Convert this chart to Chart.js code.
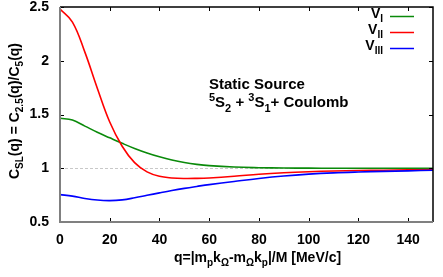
<!DOCTYPE html>
<html><head><meta charset="utf-8">
<script src="https://cdn.jsdelivr.net/npm/chart.js@4/dist/chart.umd.min.js"></script>
<style>html,body{margin:0;padding:0;background:#fff}canvas{display:block}</style>
</head><body>
<canvas id="c" width="443" height="277"></canvas>
<script>
const q     = [0, 5, 10, 15, 20, 25, 30, 35, 40, 45, 50, 55, 60, 70, 80, 90, 100, 110, 120, 130, 140, 150];
const vI    = [1.465, 1.448, 1.392, 1.335, 1.283, 1.232, 1.184, 1.142, 1.106, 1.076, 1.053, 1.036, 1.024, 1.011, 1.005, 1.002, 1.001, 1.0, 1.0, 1.0, 1.0, 1.0];
const vII   = [2.48, 2.36, 2.08, 1.745, 1.43, 1.205, 1.052, 0.966, 0.925, 0.91, 0.905, 0.906, 0.91, 0.925, 0.944, 0.958, 0.968, 0.975, 0.979, 0.982, 0.985, 0.987];
const vIII  = [0.755, 0.741, 0.719, 0.704, 0.699, 0.706, 0.725, 0.748, 0.771, 0.793, 0.813, 0.831, 0.848, 0.877, 0.905, 0.928, 0.945, 0.957, 0.965, 0.971, 0.976, 0.981];
const xTicks = [0, 20, 40, 60, 80, 100, 120, 140];
const yTicks = [0.5, 1, 1.5, 2, 2.5];
const seriesNames = [["V","I"], ["V","II"], ["V","III"]];
const seriesColors = ["#0a8a0a", "#ff0000", "#0000ff"];

const FAM = '"Liberation Sans", Arial, sans-serif';
function fnt(sz){ return 'bold ' + sz + 'px ' + FAM; }

function richWidth(ctx, parts, base, small){
  let w = 0;
  for (const [t, m] of parts){ ctx.font = fnt(m ? small : base); w += ctx.measureText(t).width; }
  return w;
}
function drawRich(ctx, parts, x, y, align, base, small, color){
  const w = richWidth(ctx, parts, base, small);
  let cx = align === 'center' ? x - w/2 : (align === 'right' ? x - w : x);
  ctx.fillStyle = color || '#000';
  ctx.textBaseline = 'alphabetic';
  ctx.textAlign = 'left';
  for (const [t, m] of parts){
    ctx.font = fnt(m ? small : base);
    let dy = 0;
    if (m === 'b') dy = base*0.3;
    if (m === 'p') dy = -base*0.42;
    ctx.fillText(t, cx, y + dy);
    cx += ctx.measureText(t).width;
  }
}

const decor = {
  id: 'decor',
  beforeDatasetsDraw(chart){
    const ctx = chart.ctx, a = chart.chartArea, ys = chart.scales.y;
    ctx.save();
    ctx.strokeStyle = '#c8c8c8'; ctx.lineWidth = 1; ctx.setLineDash([3,2]);
    const y1 = Math.round(ys.getPixelForValue(1)) + 0.5;
    ctx.beginPath(); ctx.moveTo(a.left, y1); ctx.lineTo(a.right, y1); ctx.stroke();
    ctx.restore();
  },
  afterDraw(chart){
    const ctx = chart.ctx, a = chart.chartArea, xs = chart.scales.x, ys = chart.scales.y;
    ctx.save();
    ctx.strokeStyle = '#000'; ctx.lineWidth = 1;
    ctx.beginPath();
    for (const v of xTicks){
      const px = Math.round(xs.getPixelForValue(v)) + 0.5;
      ctx.moveTo(px, a.bottom); ctx.lineTo(px, a.bottom - 4);
      ctx.moveTo(px, a.top); ctx.lineTo(px, a.top + 4);
    }
    for (const v of yTicks){
      const py = Math.round(ys.getPixelForValue(v)) + 0.5;
      ctx.moveTo(a.left, py); ctx.lineTo(a.left + 4, py);
      ctx.moveTo(a.right, py); ctx.lineTo(a.right - 4, py);
    }
    ctx.stroke();
    ctx.lineWidth = 1.5; ctx.strokeStyle = '#000';
    ctx.beginPath(); ctx.moveTo(a.left, a.top); ctx.lineTo(a.right, a.top); ctx.lineTo(a.right, a.bottom); ctx.stroke();
    ctx.strokeStyle = '#808080'; ctx.lineWidth = 2;
    ctx.beginPath(); ctx.moveTo(a.left, a.top); ctx.lineTo(a.left, a.bottom); ctx.lineTo(a.right, a.bottom); ctx.stroke();

    const ly = [16.5, 32.5, 48.5];
    for (let i = 0; i < 3; i++){
      drawRich(ctx, [[seriesNames[i][0], ''], [seriesNames[i][1], 'b']], 383, ly[i] + 1.5, 'right', 14, 10);
      ctx.strokeStyle = seriesColors[i]; ctx.lineWidth = 1.5;
      ctx.beginPath(); ctx.moveTo(390, ly[i]); ctx.lineTo(414, ly[i]); ctx.stroke();
    }

    drawRich(ctx, [["Static Source", '']], 209, 89, 'left', 15, 11);
    drawRich(ctx, [["5", 'p'], ["S", ''], ["2", 'b'], [" + ", ''], ["3", 'p'], ["S", ''], ["1", 'b'], ["+ Coulomb", '']], 209, 107, 'left', 15, 11);

    drawRich(ctx, [["q=|m", ''], ["p", 'b'], ["k", ''], ["\u03A9", 'b'], ["-m", ''], ["\u03A9", 'b'], ["k", ''], ["p", 'b'], ["|/M [MeV/c]", '']], 257.5, 262, 'center', 14, 10);

    ctx.translate(19, 111); ctx.rotate(-Math.PI/2);
    drawRich(ctx, [["C", ''], ["SL", 'b'], ["(q) = C", ''], ["2.5", 'b'], ["(q)/C", ''], ["5", 'b'], ["(q)", '']], 0, 0, 'center', 14, 10);
    ctx.restore();
  }
};

const mk = (arr) => q.map((x, i) => ({x, y: arr[i]}));

const chart = new Chart(document.getElementById('c'), {
  type: 'line',
  data: {
    datasets: [
      {label: 'VI', data: mk(vI), borderColor: seriesColors[0], order: 2},
      {label: 'VII', data: mk(vII), borderColor: seriesColors[1], order: 1},
      {label: 'VIII', data: mk(vIII), borderColor: seriesColors[2], order: 0}
    ].map(d => Object.assign(d, {borderWidth: 1.6, pointRadius: 0, fill: false, tension: 0.4}))
  },
  options: {
    responsive: false, animation: false, devicePixelRatio: 1,
    layout: {autoPadding: false, padding: {left: 0, top: 7, right: 10, bottom: 0}},
    plugins: {legend: {display: false}, tooltip: {enabled: false}},
    scales: {
      x: {
        type: 'linear', min: 0, max: 150,
        afterBuildTicks: s => { s.ticks = xTicks.map(v => ({value: v})); },
        afterFit: s => { s.height = 55; s.paddingLeft = 0; s.paddingRight = 0; },
        grid: {display: false, drawTicks: false}, border: {display: false},
        ticks: {color: '#000', font: {family: FAM, size: 14, weight: 'bold'}, padding: 10, maxRotation: 0, callback: v => String(v)}
      },
      y: {
        type: 'linear', min: 0.5, max: 2.5,
        afterBuildTicks: s => { s.ticks = yTicks.map(v => ({value: v})); },
        afterFit: s => { s.width = 60; s.paddingTop = 0; s.paddingBottom = 0; },
        grid: {display: false, drawTicks: false}, border: {display: false},
        ticks: {color: '#000', font: {family: FAM, size: 14, weight: 'bold'}, padding: 11, callback: v => String(v)}
      }
    }
  },
  plugins: [decor]
});
</script>
</body></html>
